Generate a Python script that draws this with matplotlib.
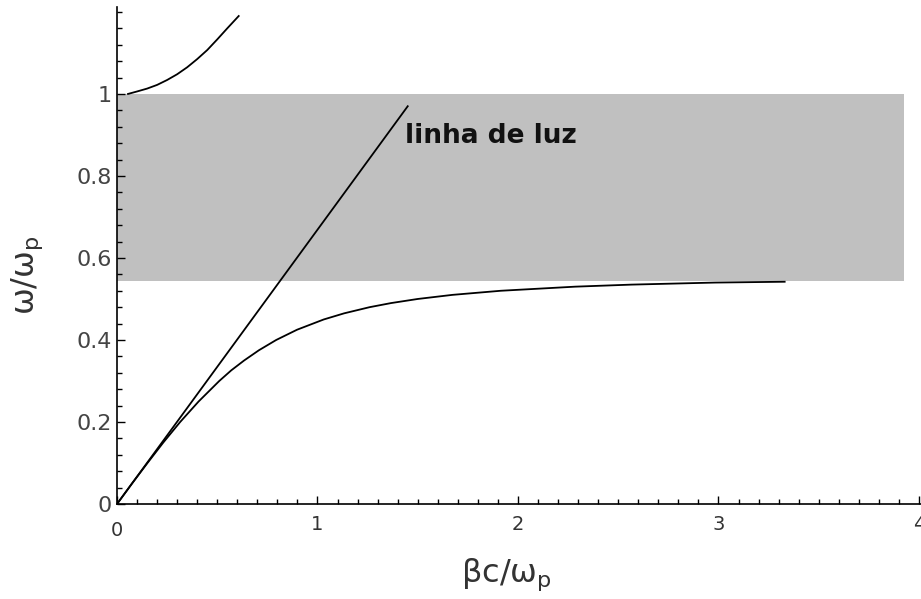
import matplotlib
matplotlib.use("Agg")
import matplotlib.pyplot as plt
from matplotlib.ticker import MultipleLocator

# ---- data ----
# lower (surface plasmon) branch
lower_x = [0.0, 0.075, 0.152, 0.231, 0.315, 0.407, 0.51, 0.57, 0.634, 0.708, 0.794,
           0.898, 1.031, 1.133, 1.26, 1.367, 1.5, 1.673, 1.914, 2.285, 2.566,
           2.984, 3.33]
lower_y = [0.0, 0.05, 0.10, 0.15, 0.20, 0.25, 0.30, 0.326, 0.35, 0.375, 0.40,
           0.425, 0.45, 0.465, 0.48, 0.49, 0.50, 0.51, 0.52, 0.53, 0.535,
           0.54, 0.542]
# upper branch (above plasma frequency)
upper_x = [0.055, 0.10, 0.15, 0.20, 0.25, 0.30, 0.35, 0.40, 0.45, 0.50, 0.55, 0.607]
upper_y = [1.0, 1.006, 1.013, 1.022, 1.034, 1.048, 1.065, 1.085, 1.107, 1.133, 1.16, 1.19]
# light line
light_x = [0.0, 1.45]
light_y = [0.0, 0.97]
# forbidden band
band_x = [0.0, 3.925]
band_low = 0.545
band_high = 1.0

xticks = [0, 1, 2, 3, 4]
xtick_labels = ["0", "1", "2", "3", "4"]
yticks = [0, 0.2, 0.4, 0.6, 0.8, 1.0]
ytick_labels = ["0", "0.2", "0.4", "0.6", "0.8", "1"]

fig = plt.figure(figsize=(9.21, 5.99), dpi=100)
ax = fig.add_axes([117/921, 95/599, 804/921, 497/599])
ax.set_xlim(0, 4.01)
ax.set_ylim(0, 1.212)

ax.fill_between(band_x, band_low, band_high, color="#c0c0c0", linewidth=0, zorder=1)
ax.plot(lower_x, lower_y, color="black", lw=1.3, zorder=3)
ax.plot(upper_x, upper_y, color="black", lw=1.3, zorder=3)
ax.plot(light_x, light_y, color="black", lw=1.3, zorder=3)

ax.text(1.436, 0.88, "linha de luz", fontsize=19, fontweight="bold",
        family="DejaVu Sans", ha="left", va="baseline", color="#111111", zorder=4)

for s in ["top", "right"]:
    ax.spines[s].set_visible(False)
for s in ["left", "bottom"]:
    ax.spines[s].set_linewidth(1.2)

ax.set_xticks(xticks)
ax.set_xticklabels(xtick_labels)
ax.set_yticks(yticks)
ax.set_yticklabels(ytick_labels)
ax.xaxis.set_minor_locator(MultipleLocator(0.1))
ax.yaxis.set_minor_locator(MultipleLocator(0.04))
ax.tick_params(which="both", direction="in", width=1.0, color="black")
ax.tick_params(which="major", length=6)
ax.tick_params(which="minor", length=3.5)
ax.tick_params(axis="x", which="major", pad=8, labelsize=14, labelcolor="#333333")
ax.tick_params(axis="y", which="major", pad=4, labelsize=16, labelcolor="#444444")
for lab in ax.get_xticklabels() + ax.get_yticklabels():
    lab.set_family("DejaVu Sans")
# origin label '0' on x sits a bit lower
ax.get_xticklabels()[0].set_y(-0.012)

ax.set_xlabel(r"βc/ω$_\mathregular{p}$", fontsize=23, color="#333333")
ax.xaxis.set_label_coords(0.485, -0.105)
ax.set_ylabel(r"ω/ω$_\mathregular{p}$", fontsize=23, color="#333333")
ax.yaxis.set_label_coords(-0.09, 0.46)

fig.savefig("out.png", dpi=100)
